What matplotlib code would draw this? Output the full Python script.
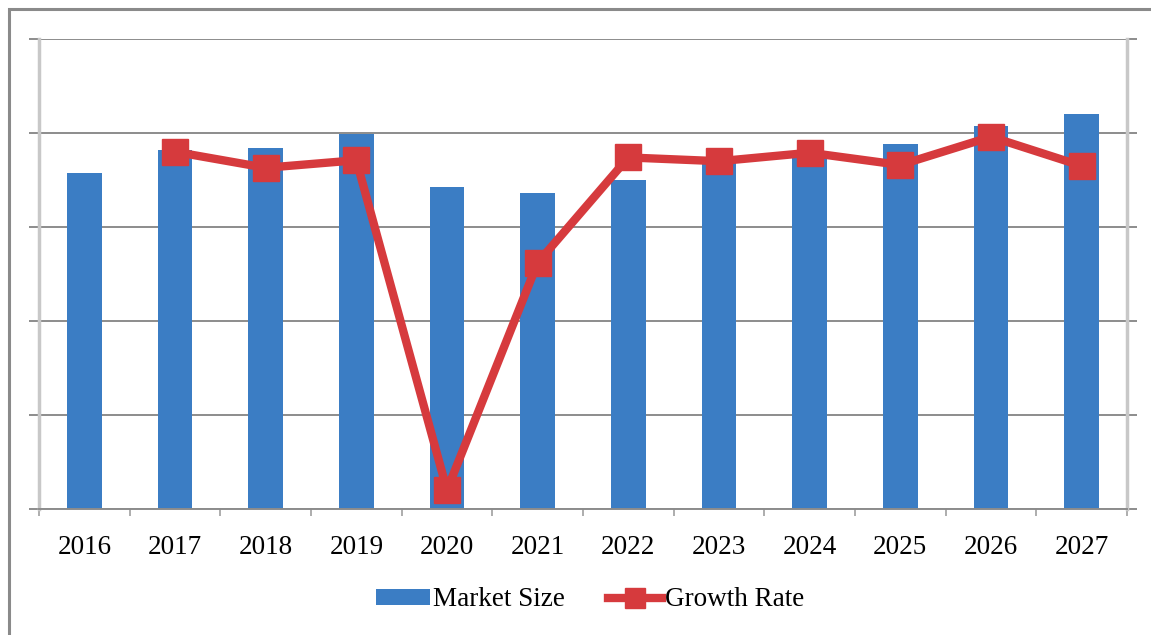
import numpy as np
import matplotlib.pyplot as plt
from matplotlib.patches import Rectangle
from matplotlib.lines import Line2D
from matplotlib.patches import Patch

years = ['2016', '2017', '2018', '2019', '2020', '2021',
         '2022', '2023', '2024', '2025', '2026', '2027']
market_size = [3.57, 3.82, 3.84, 3.99, 3.43, 3.36, 3.50, 3.68, 3.80, 3.88, 4.07, 4.20]
growth_rate = [np.nan, 3.80, 3.63, 3.71, 0.20, 2.62, 3.74, 3.70, 3.79, 3.66, 3.96, 3.65]

blue = '#3B7DC4'
red = '#D63A3D'
grid_c = '#8C8C8C'

plt.rcParams['font.family'] = ['Liberation Serif', 'DejaVu Serif']

fig = plt.figure(figsize=(11.51, 6.35), dpi=100)
fig.patch.set_facecolor('white')

# outer frame (only top/left edges visible in the reference)
fig.patches.append(Rectangle((9 / 1151, -0.05), 1.2, 1 - 9 / 635 + 0.05,
                             transform=fig.transFigure, fill=False,
                             edgecolor='#8A8A8A', linewidth=2.2))

ax = fig.add_axes([39 / 1151, 126 / 635, (1127 - 39) / 1151, (509 - 39) / 635])
x = np.arange(len(years))

ax.bar(x, market_size, width=0.38, color=blue, zorder=2)
ax.plot(x, growth_rate, color=red, linewidth=6, marker='s', markersize=19,
        markerfacecolor=red, markeredgecolor=red, zorder=3)

ax.set_xlim(-0.5, len(years) - 0.5)
ax.set_ylim(0, 5)
ax.set_yticks(np.arange(0, 6, 1))
ax.yaxis.grid(True, color=grid_c, linewidth=1.4, zorder=0)
ax.tick_params(axis='y', which='both', left=True, right=True, labelleft=False,
               length=7, color=grid_c, width=1.4)

ax.set_xticks(x)
ax.set_xticklabels(years, fontsize=19.5)
ax.set_xticks(np.arange(-0.5, len(years), 1), minor=True)
ax.tick_params(axis='x', which='major', length=0, pad=19)
ax.tick_params(axis='x', which='minor', length=5, color='#A0A0A0', width=1.2)

for s in ['top']:
    ax.spines[s].set_visible(False)
ax.spines['bottom'].set_color(grid_c)
ax.spines['bottom'].set_linewidth(1.4)
ax.spines['left'].set_color('#C8C8C8')
ax.spines['left'].set_linewidth(2.5)
ax.spines['right'].set_color('#C8C8C8')
ax.spines['right'].set_linewidth(2.5)

handles = [Patch(facecolor=blue, edgecolor='none'),
           Line2D([0], [0], color=red, linewidth=6, marker='s', markersize=14)]
fig.legend(handles, ['Market Size', 'Growth Rate'], loc='center',
           bbox_to_anchor=(590 / 1151, 1 - 600 / 635), ncol=2, frameon=False,
           fontsize=19.5, handlelength=2.0, handletextpad=0.1, columnspacing=1.6,
           handleheight=0.5)

fig.savefig('out.png', dpi=100)
